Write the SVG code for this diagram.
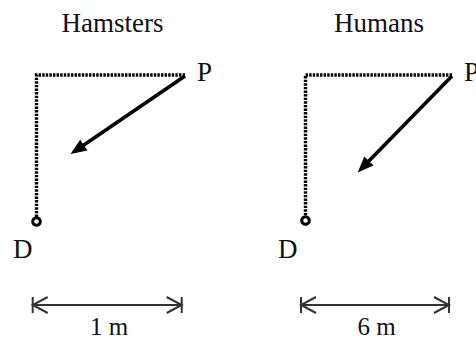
<svg xmlns="http://www.w3.org/2000/svg" width="476" height="339" viewBox="0 0 476 339">
<defs>
<style>
.t{font-family:"Liberation Serif","Times New Roman",serif;fill:#111;}
.title{font-size:27px;text-anchor:middle;}
.lbl{font-size:27px;}
.dim{font-size:25px;text-anchor:middle;}
.dot{fill:none;stroke:#000;stroke-width:3.4;stroke-dasharray:2.4 1.2;}
.arr{fill:none;stroke:#000;stroke-width:3.6;marker-end:url(#head);}
.dl{fill:none;stroke:#333;stroke-width:2;marker-start:url(#chev);marker-end:url(#chev);}
.tick{stroke:#333;stroke-width:2;}
.end{fill:#fff;stroke:#000;stroke-width:3;}
</style>
<marker id="head" markerUnits="userSpaceOnUse" markerWidth="18" markerHeight="14" refX="7" refY="6.5" orient="auto" overflow="visible">
<path d="M0,0 L16,6.5 L0,13 Z" fill="#000"/>
</marker>
<marker id="chev" markerUnits="userSpaceOnUse" markerWidth="16" markerHeight="18" refX="15" refY="8" orient="auto-start-reverse" overflow="visible">
<path d="M0,0 L15,8 L0,16" fill="none" stroke="#333" stroke-width="2"/>
</marker>
</defs>
<rect width="476" height="339" fill="#fff"/>

<g id="title-hamsters"><text class="t title" x="112.5" y="32">Hamsters</text></g>
<g id="title-humans"><text class="t title" x="379" y="32">Humans</text></g>

<g id="connectors">
<path class="dot" d="M185,75 H36.5 V217"/>
<path class="arr" d="M185,76 L78,149"/>
<path class="dot" d="M452,75 H305.5 V216"/>
<path class="arr" d="M452,76 L364,166"/>
</g>

<g id="P-hamsters"><text class="t lbl" x="197" y="81">P</text></g>
<g id="D-hamsters"><circle class="end" cx="36.5" cy="221.5" r="3.8"/><text class="t lbl" x="13" y="258">D</text></g>
<g id="P-humans"><text class="t lbl" x="464" y="81">P</text></g>
<g id="D-humans"><circle class="end" cx="305.5" cy="220.5" r="3.8"/><text class="t lbl" x="278" y="258">D</text></g>

<g id="scale-hamsters">
<line class="tick" x1="32.7" y1="297" x2="32.7" y2="313"/>
<line class="tick" x1="181.7" y1="297" x2="181.7" y2="313"/>
<line class="dl" x1="32.7" y1="305" x2="181.7" y2="305"/>
<text class="t dim" x="109" y="335">1 m</text>
</g>
<g id="scale-humans">
<line class="tick" x1="301" y1="297" x2="301" y2="313"/>
<line class="tick" x1="449" y1="297" x2="449" y2="313"/>
<line class="dl" x1="301" y1="305" x2="449" y2="305"/>
<text class="t dim" x="376.5" y="335">6 m</text>
</g>
</svg>
